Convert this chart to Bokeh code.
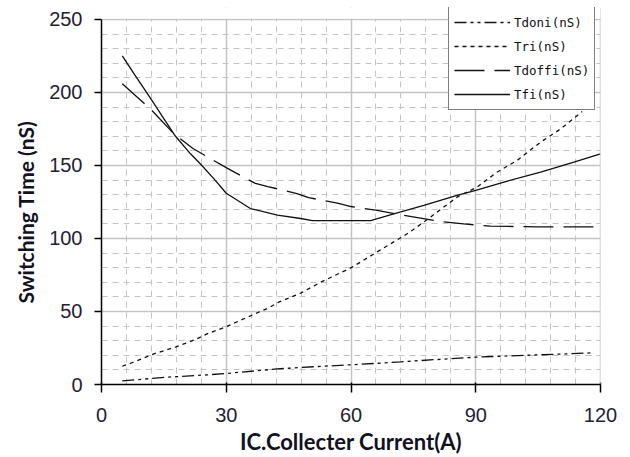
from bokeh.plotting import figure
from bokeh.models import (SingleIntervalTicker, Legend, LegendItem, Range1d,
                          BoxAnnotation, Span, Title)
from bokeh.embed import file_html
from bokeh.resources import INLINE

# ---- data ----
tdoni_x = [5, 15.8, 25.4, 31, 42.3, 51.9, 61.9, 72, 80, 90, 100, 110, 117.6]
tdoni_y = [2.5, 5, 6.6, 7.8, 10.7, 12.3, 13.8, 15.5, 17, 18.7, 19.8, 20.8, 21.6]

tri_x = [5, 7.7, 12.6, 17.8, 23, 25.4, 29.8, 35, 40.2, 42.6, 47.9, 52.7, 60.3,
         67.1, 73.5, 77.5, 82.3, 85.5, 90.3, 95.1, 99.9, 105.6, 110.4, 115.6]
tri_y = [12.5, 15.3, 21, 25.6, 31.3, 34.7, 39.3, 46, 52.5, 56.4, 62.6, 70, 80.4,
         92.2, 103.2, 111.2, 121.5, 128.3, 135.2, 145.4, 153.4, 166, 175, 187]

tdoffi_x = [5, 12, 17.3, 22, 24.8, 30.3, 37, 40, 47, 49.8, 57, 60, 66.3, 72.7,
            76.7, 81.5, 87.1, 93.5, 105, 120]
tdoffi_y = [206, 188, 172, 161.6, 157, 148, 137.7, 135.6, 130.8, 128, 124, 121.9,
            119.2, 115.8, 114, 111.6, 110, 108.4, 108, 108]

tfi_x = [5, 8, 11.8, 14.9, 17.8, 21.4, 23.8, 27, 30, 35.8, 42.3, 47.9, 50.7,
         57.5, 64.7, 70.3, 77.5, 85.5, 90, 97.6, 105.6, 113.6, 120]
tfi_y = [225, 212, 196, 182.5, 170, 158, 151, 141, 131, 120.5, 116, 113.7, 112.3,
         112.3, 112.3, 116.9, 122.6, 129.5, 132.9, 139.3, 145.4, 152.3, 158]

series_names = ["Tdoni(nS)", "Tri(nS)", "Tdoffi(nS)", "Tfi(nS)"]
x_label = "IC.Collecter Current(A)"
y_label = "Switching Time (nS)"
x_max, y_max = 120, 250

# ---- figure ----
# the y range runs a little past 250 so that the legend (which sits partly
# above the plot box in the reference) is not clipped; that strip is blanked.
p = figure(width=622, height=457, output_backend="svg", toolbar_location=None,
           x_range=Range1d(0, x_max), y_range=Range1d(0, y_max * 1.0328),
           min_border_left=101, min_border_right=22, min_border_top=7,
           min_border_bottom=73)
p.background_fill_color = "white"
p.border_fill_color = "white"
p.outline_line_color = None

p.xaxis.ticker = SingleIntervalTicker(interval=30, num_minor_ticks=5)
p.yaxis.ticker = SingleIntervalTicker(interval=50, num_minor_ticks=5)
p.yaxis.bounds = (0, y_max)

for ax in (p.xaxis, p.yaxis):
    ax.axis_line_color = "black"
    ax.axis_line_width = 1.5
    ax.major_tick_line_color = "black"
    ax.major_tick_line_width = 1.5
    ax.minor_tick_line_color = None
    ax.major_label_text_font = "Liberation Sans"
    ax.major_label_text_font_size = "20px"
    ax.major_label_text_color = "#222233"

p.xaxis.axis_label = x_label
p.xaxis.axis_label_text_font = "Lato"
p.xaxis.axis_label_text_font_style = "bold"
p.xaxis.axis_label_text_color = "#111122"
p.xaxis.axis_label_text_font_size = "22px"
p.xaxis.major_tick_out = 8
p.xaxis.major_tick_in = 2
p.xaxis.major_label_standoff = 15
p.xaxis.axis_label_standoff = 3
p.yaxis.major_tick_out = 7
p.yaxis.major_tick_in = 0
p.yaxis.major_label_standoff = 12

# y axis title, placed along the left side of the 0..250 span
ytitle = Title(text=y_label, align="left", offset=81, standoff=17,
               text_font="Lato", text_font_style="bold", text_font_size="21px",
               text_color="#111122")
p.add_layout(ytitle, "left")

for g in (p.xgrid, p.ygrid):
    g.grid_line_color = "#c4c4c4"
    g.grid_line_width = 1.5
    g.minor_grid_line_color = "#c4c4c4"
    g.minor_grid_line_width = 1
    g.minor_grid_line_dash = "6 5"

# right border of the plot box
p.add_layout(Span(location=x_max, dimension="height", line_color="#c4c4c4",
                  line_width=1.5))
# blank strip above 250
p.add_layout(BoxAnnotation(bottom=y_max + 0.5, fill_color="white", fill_alpha=1,
                           line_color=None))

lc = "#111111"
r1 = p.line(tdoni_x, tdoni_y, line_color=lc, line_width=1.3, line_dash="12 4 3 4 3 4")
r2 = p.line(tri_x, tri_y, line_color=lc, line_width=1.3, line_dash="4 4")
r3 = p.line(tdoffi_x, tdoffi_y, line_color=lc, line_width=1.3, line_dash="30 10")
r4 = p.line(tfi_x, tfi_y, line_color=lc, line_width=1.3)

legend = Legend(items=[LegendItem(label=n, renderers=[r]) for n, r in
                       zip(series_names, [r1, r2, r3, r4])],
                location=(347, 274))
legend.border_line_color = "black"
legend.border_line_width = 1.5
legend.background_fill_color = "white"
legend.background_fill_alpha = 1
legend.label_text_font = "DejaVu Sans Mono"
legend.label_text_font_size = "12.5px"
legend.label_text_color = "#111111"
legend.glyph_width = 56
legend.glyph_height = 20
legend.label_height = 20
legend.label_standoff = 4
legend.spacing = 4
legend.padding = 5
legend.margin = 0
p.add_layout(legend, "center")

open("out.html", "w").write(file_html(p, INLINE))
